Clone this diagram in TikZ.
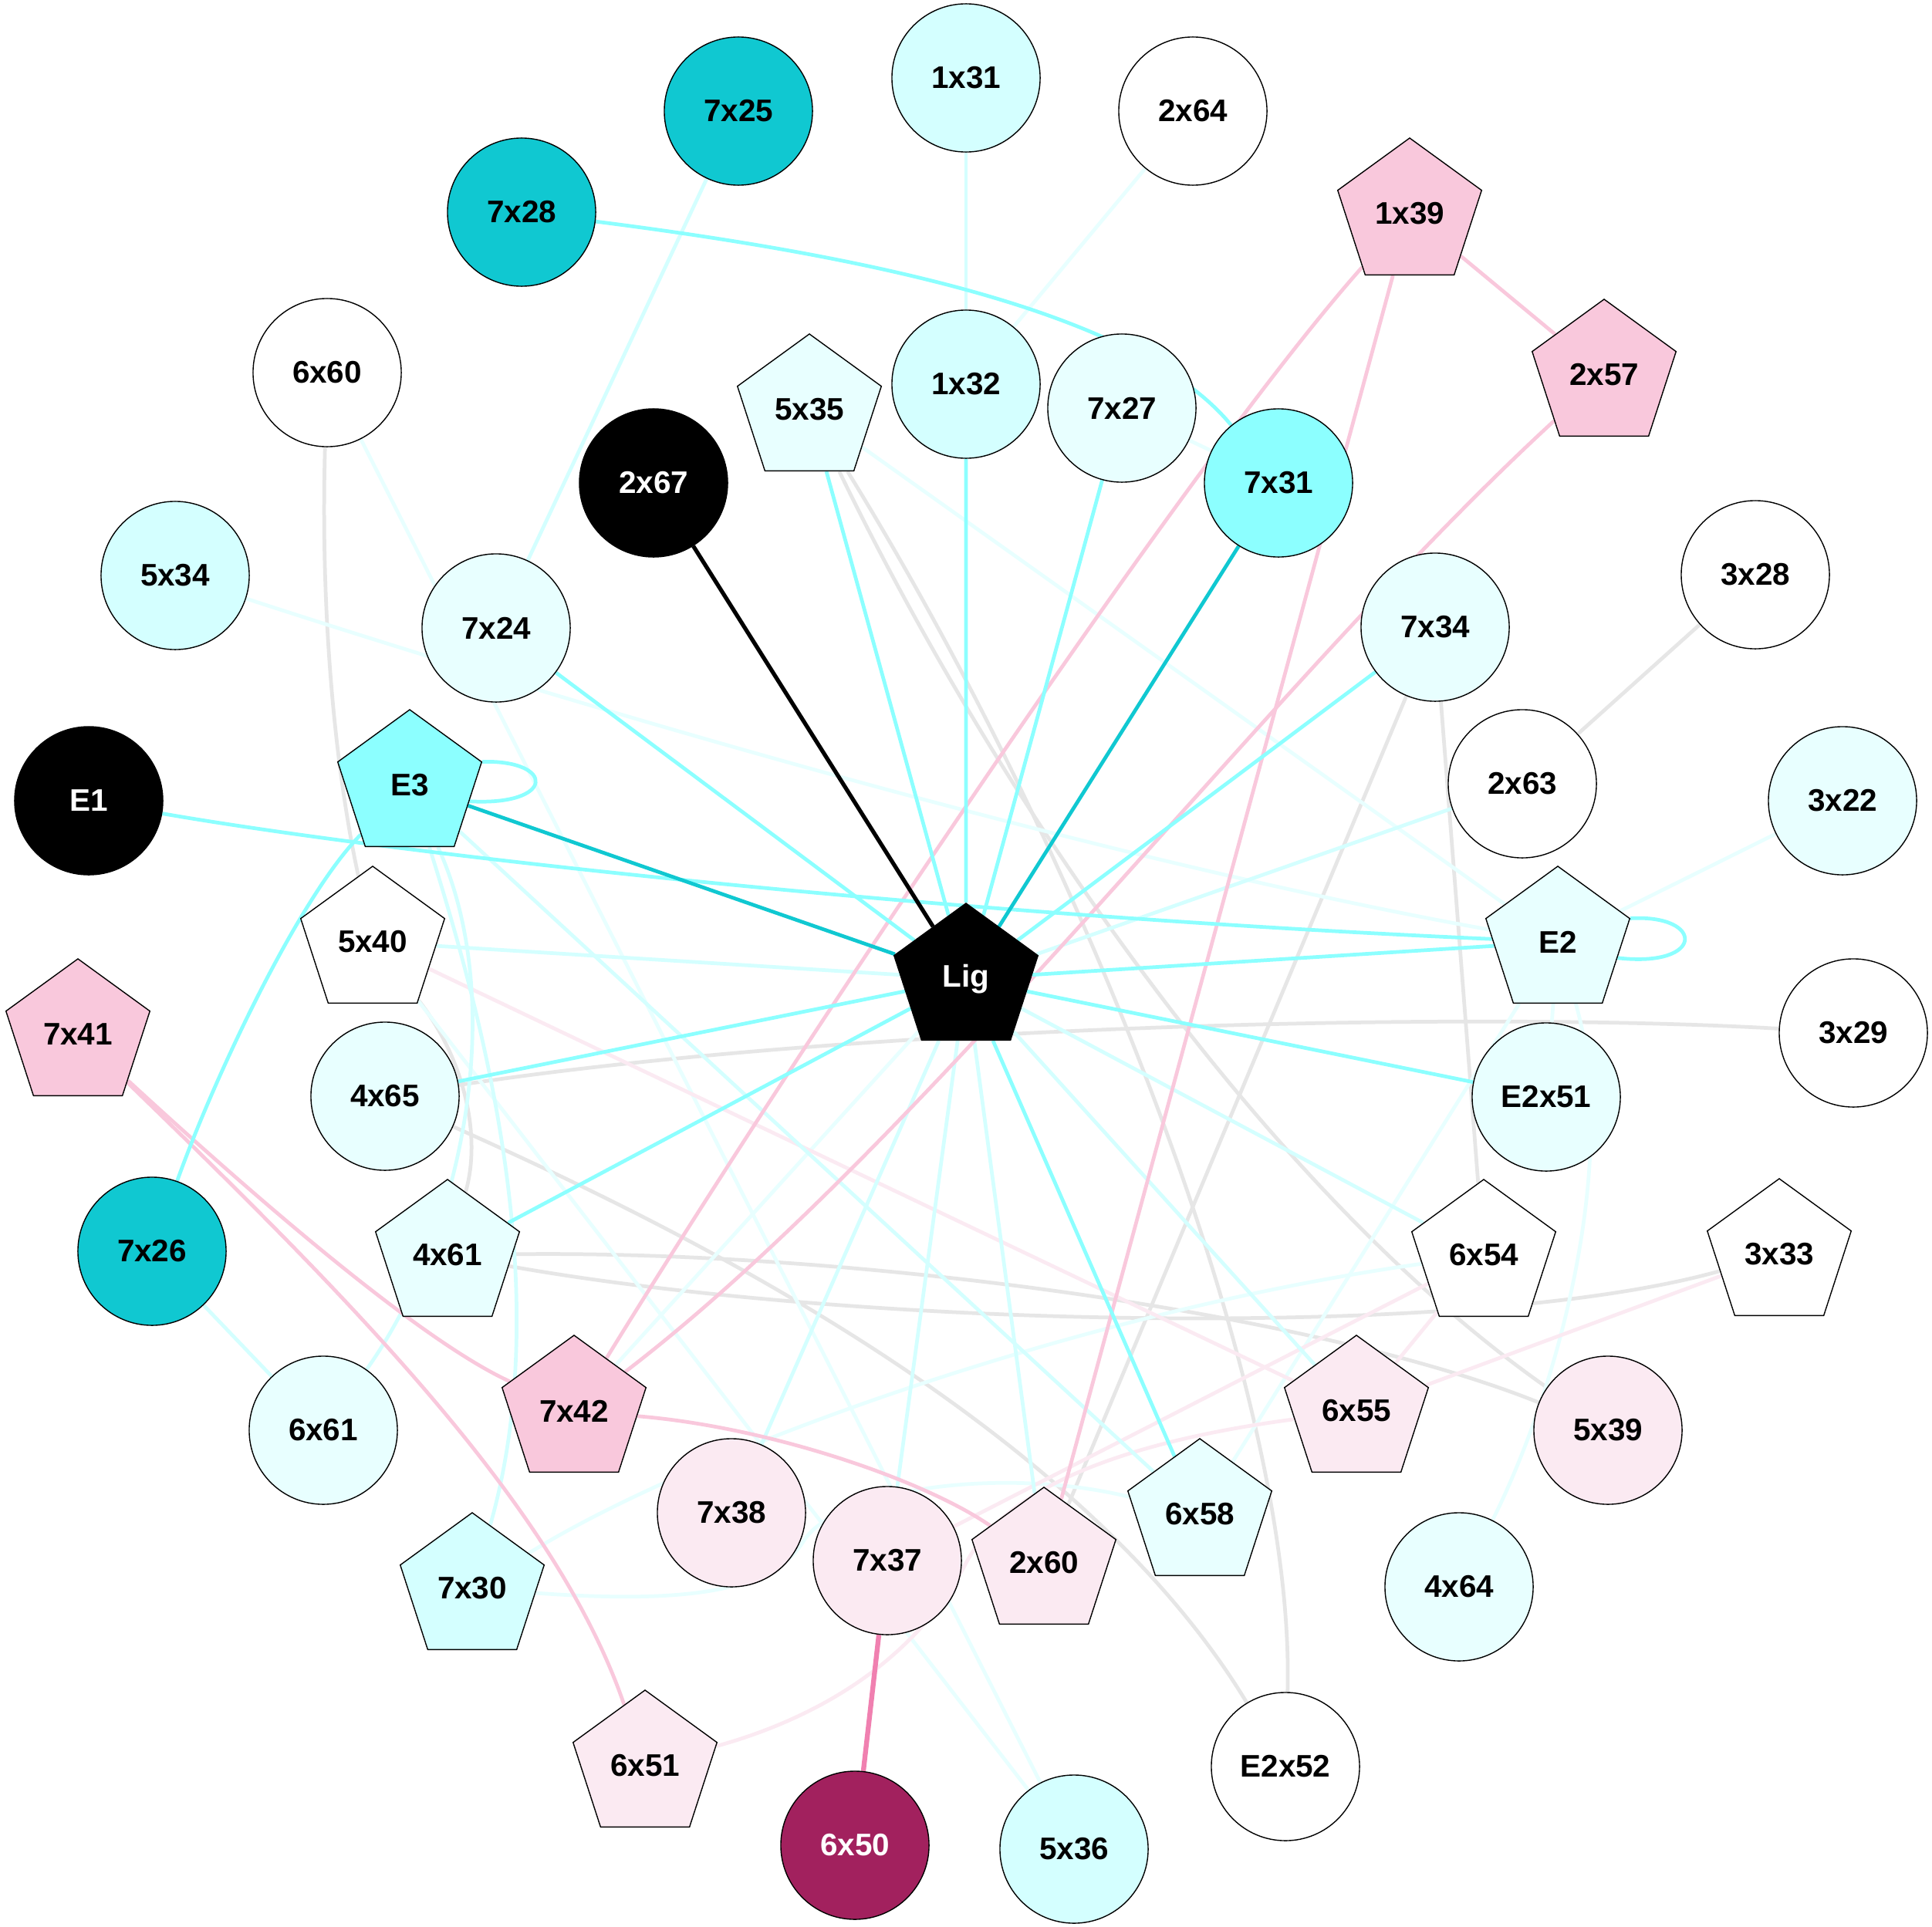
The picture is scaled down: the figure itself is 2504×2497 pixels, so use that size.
\documentclass[tikz,border=0pt]{standalone}
\usepackage{fontspec}
\setmainfont{Liberation Sans}
\usepackage{tikz}
\usetikzlibrary{shapes,backgrounds}
\definecolor{dteal}{RGB}{16,200,209}
\definecolor{cyanA}{RGB}{140,255,255}
\definecolor{cyanB}{RGB}{212,255,255}
\definecolor{cyanC}{RGB}{232,255,255}
\definecolor{pinkA}{RGB}{249,200,220}
\definecolor{pinkB}{RGB}{251,234,242}
\definecolor{pinkD}{RGB}{240,128,176}
\definecolor{plum}{RGB}{162,33,94}
\definecolor{greyE}{RGB}{230,230,230}
\tikzset{%
  res/.style  = {draw, circle, fill=white, line width=0.4pt, minimum size=1.92cm, inner sep=0pt}, % residue
  pent/.style = {draw, regular polygon, regular polygon sides=5, fill=white, line width=0.4pt,
    minimum size=1.96cm, inner sep=0pt}, % residue, pentagon
  inv/.style  = {text=white},
  link/.style      = {line width=1.35pt},
  blackedge/.style = {link, draw=black, line width=1.5pt},
  tealedge/.style  = {link, draw=dteal},
  cyanedge/.style  = {link, draw=cyanA},
  lcyanedge/.style = {link, draw=cyanB},
  vcyanedge/.style = {link, draw=cyanC},
  pinkedge/.style  = {link, draw=pinkA},
  vpinkedge/.style = {link, draw=pinkB},
  rosedge/.style   = {link, draw=pinkD, line width=1.8pt},
  greyedge/.style  = {link, draw=greyE}
}

\begin{document}
\begin{tikzpicture}[x=0.01cm, y=-0.01cm,
  font=\fontsize{11.5pt}{13pt}\selectfont\bfseries]

  \useasboundingbox (0,0) rectangle (2504,2497);

  \draw node at (957,144) [res, fill=dteal] (r7x25) {7x25};
  \draw node at (1252,101) [res, fill=cyanB] (r1x31) {1x31};
  \draw node at (1546,144) [res] (r2x64) {2x64};
  \draw node at (676,275) [res, fill=dteal] (r7x28) {7x28};
  \draw node at (1827,277) [pent, fill=pinkA] (r1x39) {1x39};
  \draw node at (424,483) [res] (r6x60) {6x60};
  \draw node at (1049,531) [pent, fill=cyanC] (r5x35) {5x35};
  \draw node at (1252,498) [res, fill=cyanB] (r1x32) {1x32};
  \draw node at (1454,529) [res, fill=cyanC] (r7x27) {7x27};
  \draw node at (2079,486) [pent, fill=pinkA] (r2x57) {2x57};
  \draw node at (847,626) [res, fill=black, inv] (r2x67) {2x67};
  \draw node at (1657,626) [res, fill=cyanA] (r7x31) {7x31};
  \draw node at (227,746) [res, fill=cyanB] (r5x34) {5x34};
  \draw node at (643,814) [res, fill=cyanC] (r7x24) {7x24};
  \draw node at (1860,813) [res, fill=cyanC] (r7x34) {7x34};
  \draw node at (2275,745) [res] (r3x28) {3x28};
  \draw node at (115,1038) [res, fill=black, inv] (e1) {E1};
  \draw node at (531,1018) [pent, fill=cyanA] (e3) {E3};
  \draw node at (1973,1016) [res] (r2x63) {2x63};
  \draw node at (2388,1038) [res, fill=cyanC] (r3x22) {3x22};
  \draw node at (483,1221) [pent] (r5x40) {5x40};
  \draw node at (1252,1269) [pent, fill=black, inv] (lig) {Lig};
  \draw node at (2019,1221) [pent, fill=cyanC] (e2) {E2};
  \draw node at (101,1341) [pent, fill=pinkA] (r7x41) {7x41};
  \draw node at (499,1421) [res, fill=cyanC] (r4x65) {4x65};
  \draw node at (2402,1339) [res] (r3x29) {3x29};
  \draw node at (2004,1422) [res, fill=cyanC] (e2x51) {E2x51};
  \draw node at (197,1622) [res, fill=dteal] (r7x26) {7x26};
  \draw node at (580,1627) [pent, fill=cyanC] (r4x61) {4x61};
  \draw node at (1923,1627) [pent] (r6x54) {6x54};
  \draw node at (2306,1626) [pent] (r3x33) {3x33};
  \draw node at (419,1854) [res, fill=cyanC] (r6x61) {6x61};
  \draw node at (744,1829) [pent, fill=pinkA] (r7x42) {7x42};
  \draw node at (1758,1829) [pent, fill=pinkB] (r6x55) {6x55};
  \draw node at (2084,1854) [res, fill=pinkB] (r5x39) {5x39};
  \draw node at (948,1961) [res, fill=pinkB] (r7x38) {7x38};
  \draw node at (1150,2023) [res, fill=pinkB] (r7x37) {7x37};
  \draw node at (1353,2026) [pent, fill=pinkB] (r2x60) {2x60};
  \draw node at (1555,1963) [pent, fill=cyanC] (r6x58) {6x58};
  \draw node at (612,2059) [pent, fill=cyanB] (r7x30) {7x30};
  \draw node at (1891,2057) [res, fill=cyanC] (r4x64) {4x64};
  \draw node at (836,2289) [pent, fill=pinkB] (r6x51) {6x51};
  \draw node at (1666,2290) [res] (e2x52) {E2x52};
  \draw node at (1108,2392) [res, fill=plum, inv] (r6x50) {6x50};
  \draw node at (1392,2397) [res, fill=cyanB] (r5x36) {5x36};

  \begin{scope}[on background layer]
  \fill[white] (0,0) rectangle (2504,2497);

  % grey contacts
  \draw[greyedge] (r6x60) .. controls (415,800) and (435,1000) .. (r5x40);
  \draw[greyedge] (r5x40) .. controls (600,1370) and (625,1470) .. (r4x61);
  \draw[greyedge] (r5x35) .. controls (1300,1050) and (1650,1550) .. (r5x39);
  \draw[greyedge] (r5x35) .. controls (1400,1100) and (1680,1800) .. (e2x52);
  \draw[greyedge] (r3x28) -- (r2x63);
  \draw[greyedge] (r7x34) -- (r2x60);
  \draw[greyedge] (r7x34) -- (r6x54);
  \draw[greyedge] (r3x29) .. controls (1900,1310) and (1100,1330) .. (r4x65);
  \draw[greyedge] (r4x65) .. controls (900,1600) and (1400,1850) .. (e2x52);
  \draw[greyedge] (r4x61) .. controls (1100,1620) and (1700,1700) .. (r5x39);
  \draw[greyedge] (r4x61) .. controls (1100,1720) and (1900,1740) .. (r3x33);

  % very light contacts
  \draw[vcyanedge] (r2x64) -- (r1x32);
  \draw[vcyanedge] (r7x27) -- (r7x31);
  \draw[vcyanedge] (r5x34) .. controls (700,900) and (1400,1110) .. (e2);
  \draw[vcyanedge] (r5x35) -- (e2);
  \draw[vcyanedge] (e2) -- (r3x22);
  \draw[vcyanedge] (e2) -- (r6x58);
  \draw[vcyanedge] (e2) .. controls (2100,1500) and (2020,1800) .. (r4x64);
  \draw[vcyanedge] (e2) -- (e2x51);
  \draw[vcyanedge] (r6x60) -- (r5x36);
  \draw[vcyanedge] (r5x40) -- (r5x36);
  \draw[vcyanedge] (lig) -- (r7x42);
  \draw[vcyanedge] (r7x30) .. controls (900,1880) and (1400,1700) .. (r6x54);
  \draw[vcyanedge] (r7x30) .. controls (900,2080) and (1000,2060) .. (1040,2000)
    .. controls (1080,1930) and (1300,1900) .. (r6x58);
  \draw[vpinkedge] (r5x40) -- (r6x55);
  \draw[vpinkedge] (r6x51) .. controls (1050,2230) and (1180,2160) .. (1250,2030)
    .. controls (1300,1930) and (1450,1870) .. (r6x55);
  \draw[vpinkedge] (r6x54) -- (r7x37);
  \draw[vpinkedge] (r6x55) -- (r3x33);
  \draw[vpinkedge] (r6x54) -- (r6x55);

  % light cyan contacts
  \draw[lcyanedge] (r7x25) -- (r7x24);
  \draw[lcyanedge] (r1x31) -- (r1x32);
  \draw[lcyanedge] (r7x26) -- (r6x61);
  \draw[lcyanedge] (e3) .. controls (630,1330) and (720,1680) .. (r7x30);
  \draw[lcyanedge] (e3) -- (r6x58);
  \draw[lcyanedge] (e3) .. controls (660,1300) and (600,1600) .. (r6x61);
  \draw[lcyanedge] (lig) -- (r5x40);
  \draw[lcyanedge] (lig) -- (r2x63);
  \draw[lcyanedge] (lig) -- (r7x38);
  \draw[lcyanedge] (lig) -- (r7x37);
  \draw[lcyanedge] (lig) -- (r2x60);
  \draw[lcyanedge] (lig) -- (r6x54);
  \draw[lcyanedge] (lig) -- (r6x55);

  % pink contacts
  \draw[pinkedge] (r1x39) -- (r2x57);
  \draw[pinkedge] (r1x39) .. controls (1540,600) and (1020,1380) .. (r7x42);
  \draw[pinkedge] (r1x39) -- (r2x60);
  \draw[pinkedge] (r2x57) .. controls (1650,880) and (1200,1480) .. (r7x42);
  \draw[pinkedge] (r7x41) .. controls (350,1570) and (550,1740) .. (r7x42);
  \draw[pinkedge] (r7x41) .. controls (450,1680) and (720,1950) .. (r6x51);
  \draw[pinkedge] (r7x42) .. controls (1000,1850) and (1200,1920) .. (r2x60);
  \draw[rosedge] (r7x37) -- (r6x50);

  % cyan contacts
  \draw[cyanedge] (lig) -- (r5x35);
  \draw[cyanedge] (lig) -- (r1x32);
  \draw[cyanedge] (lig) -- (r7x27);
  \draw[cyanedge] (lig) -- (r7x24);
  \draw[cyanedge] (lig) -- (r7x34);
  \draw[cyanedge] (lig) -- (e2);
  \draw[cyanedge] (lig) -- (e2x51);
  \draw[cyanedge] (lig) -- (r4x65);
  \draw[cyanedge] (lig) -- (r4x61);
  \draw[cyanedge] (lig) -- (r6x58);
  \draw[cyanedge] (e1) .. controls (500,1105) and (1200,1185) .. (e2);
  \draw[cyanedge] (r7x28) .. controls (1150,335) and (1480,410) .. (r7x31);
  \draw[cyanedge] (e3) .. controls (390,1160) and (280,1390) .. (r7x26);
  \draw[cyanedge] (e3.18) .. controls (720,985) and (720,1045) .. (e3.-15);
  \draw[cyanedge] (e2.18) .. controls (2210,1185) and (2210,1255) .. (e2.-15);

  \draw[tealedge] (lig) -- (e3);
  \draw[tealedge] (lig) -- (r7x31);
  \draw[blackedge] (lig) -- (r2x67);
  \end{scope}

\end{tikzpicture}
\end{document}
